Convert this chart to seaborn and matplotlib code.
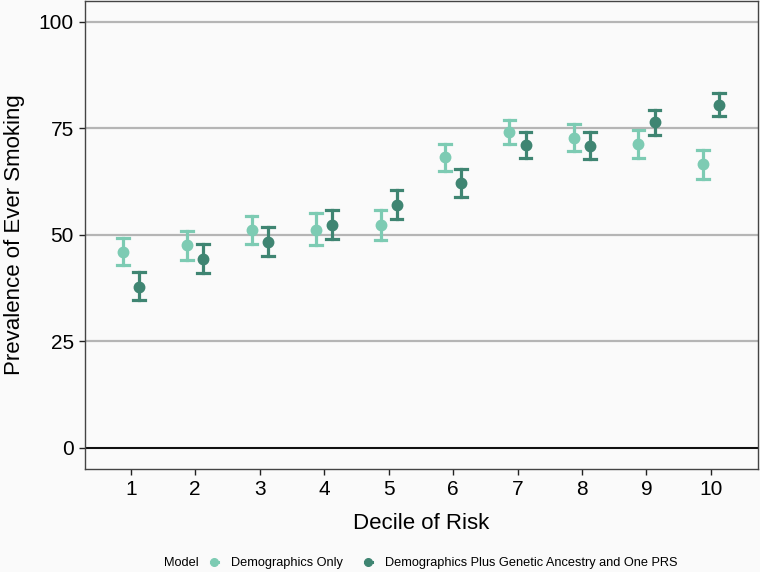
import numpy as np
import pandas as pd
import matplotlib
matplotlib.use("Agg")
import matplotlib.pyplot as plt
from matplotlib.lines import Line2D
import seaborn as sns

deciles = [1, 2, 3, 4, 5, 6, 7, 8, 9, 10]
models = ["Demographics Only", "Demographics Plus Genetic Ancestry and One PRS"]

demo_est = [46.0, 47.5, 51.2, 51.2, 52.2, 68.2, 74.1, 72.8, 71.4, 66.5]
demo_lo = [42.9, 44.0, 47.9, 47.7, 48.7, 64.9, 71.4, 69.6, 68.1, 63.0]
demo_hi = [49.3, 50.8, 54.4, 55.0, 55.7, 71.4, 77.0, 76.0, 74.6, 70.0]

prs_est = [37.8, 44.3, 48.3, 52.4, 56.9, 62.1, 71.0, 70.8, 76.4, 80.5]
prs_lo = [34.7, 41.1, 45.0, 49.1, 53.6, 58.9, 68.0, 67.7, 73.5, 77.8]
prs_hi = [41.3, 47.8, 51.8, 55.7, 60.4, 65.5, 74.2, 74.1, 79.4, 83.2]

colors = ["#7dcbb3", "#3f8572"]

rows = []
for m, est, lo, hi in [(models[0], demo_est, demo_lo, demo_hi),
                       (models[1], prs_est, prs_lo, prs_hi)]:
    for d, e, l, h in zip(deciles, est, lo, hi):
        for v in (l, e, h):
            rows.append({"Decile": str(d), "Model": m, "Prevalence": v})
df = pd.DataFrame(rows)

plt.rcParams["font.family"] = ["Liberation Sans", "DejaVu Sans"]
bg = "#fafafa"
fig = plt.figure(figsize=(7.6, 5.72), dpi=100, facecolor=bg)
ax = fig.add_axes([85 / 760, 1 - 469 / 572, (758 - 85) / 760, 468.5 / 572])
ax.set_facecolor(bg)

sns.pointplot(
    data=df, x="Decile", y="Prevalence", hue="Model",
    order=[str(d) for d in deciles], hue_order=models,
    estimator="median", errorbar=lambda v: (v.min(), v.max()),
    dodge=0.25, linestyle="none", palette=colors,
    markers="o", markersize=6.5, capsize=0.18,
    err_kws={"linewidth": 2.3}, ax=ax, zorder=3,
)

ax.set_ylim(-5, 105)
ax.set_xlim(-0.71, 9.73)
ax.set_yticks([0, 25, 50, 75, 100])
ax.yaxis.grid(True, color="#b5b5b5", linewidth=1.6)
ax.xaxis.grid(False)
ax.set_axisbelow(True)
ax.axhline(0, color="black", linewidth=1.3, zorder=2)
for s in ax.spines.values():
    s.set_color("#444444")
    s.set_linewidth(1.0)
ax.tick_params(axis="both", labelsize=15, colors="#222222", length=4,
               width=1.0, pad=4, labelcolor="black")
ax.set_xlabel("Decile of Risk", fontsize=16, labelpad=10)
ax.set_ylabel("Prevalence of Ever Smoking", fontsize=16, labelpad=10)

ax.get_legend().remove()
handles = [Line2D([], [], color=c, marker="o", markersize=5.5, linewidth=2.2)
           for c in colors]
fig.text(164 / 760, 1 - 563 / 572, "Model", fontsize=9.2, va="center", ha="left")
fig.legend(handles, models, loc="center left", ncol=2,
           bbox_to_anchor=(210.5 / 760, 1 - 563 / 572), frameon=False,
           fontsize=9.2, handlelength=0.6, handletextpad=1.0,
           columnspacing=1.7, borderaxespad=0, borderpad=0)

fig.savefig("out.png", dpi=100, facecolor=bg)
